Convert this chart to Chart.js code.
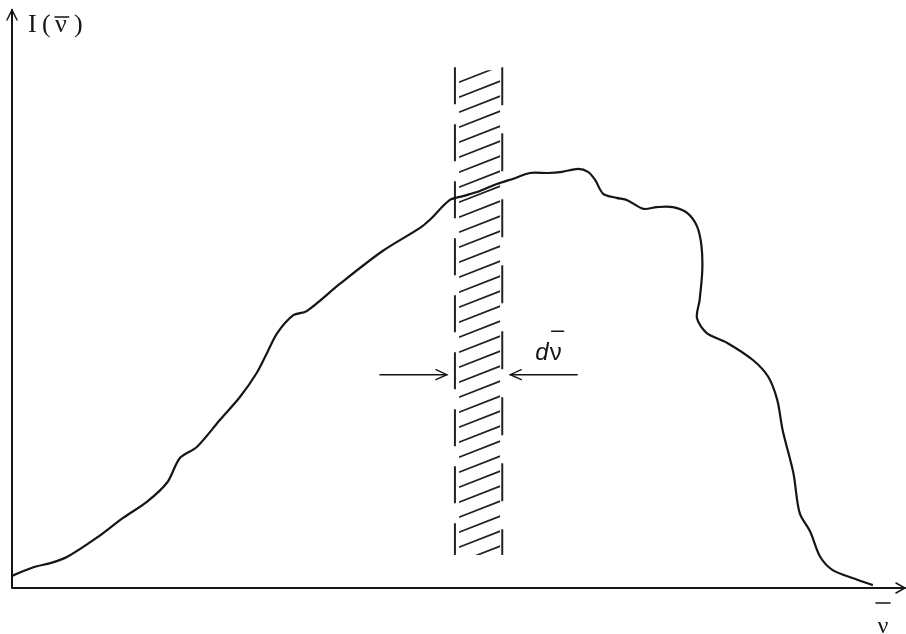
<!DOCTYPE html>
<html>
<head>
<meta charset="utf-8">
<title>I(ν)</title>
<script src="https://cdn.jsdelivr.net/npm/chart.js@4.4.1/dist/chart.umd.min.js"></script>
<style>
  html, body { margin: 0; padding: 0; background: #fff; }
  canvas { display: block; }
</style>
</head>
<body>
<canvas id="spektrum" width="906" height="634"></canvas>
<script>
// Vlnočet (libovolné jednotky, 0-100) a intenzita I(ν)
const nu = [
    0.0, 2.4, 4.3, 6.2, 9.5, 12.4, 15.1, 17.4, 18.8, 20.7,
    23.3, 25.5, 27.4, 28.6, 29.7, 31.5, 33.0, 36.7, 41.5, 45.7,
    46.8, 49.0, 50.5, 52.4, 54.3, 56.3, 58.0, 60.0, 61.6, 63.4,
    64.5, 65.3, 66.2, 67.7, 68.9, 70.7, 72.2, 74.0, 75.6, 76.7,
    77.2, 77.3, 77.0, 76.7, 77.8, 80.1, 83.0, 84.7, 85.7, 86.3,
    87.5, 88.2, 89.4, 90.5, 91.9, 94.2, 96.4
];
const intensity = [
    2.1, 3.6, 4.3, 5.4, 8.7, 12.1, 14.9, 18.3, 22.5, 24.4,
    29.1, 33.0, 37.2, 40.8, 44.1, 47.2, 47.9, 52.6, 58.3, 62.3,
    63.7, 67.1, 67.8, 68.7, 69.9, 70.9, 71.8, 71.8, 72.0, 72.5,
    72.0, 70.6, 68.2, 67.5, 67.1, 65.6, 65.9, 65.9, 64.9, 62.6,
    59.3, 55.0, 49.8, 46.7, 44.1, 42.4, 39.4, 36.5, 32.5, 27.3,
    19.9, 13.0, 9.7, 5.4, 3.1, 1.7, 0.5
];

// Šrafovaný proužek dν a šipky k němu (v jednotkách os)
const bandFrom = 49.6;
const bandTo = 54.9;
const bandTop = 90.1;
const bandBottom = 5.7;
const arrowLevel = 36.9;
const arrowLeft = [41.2, 48.7];   // odkud, hrot
const arrowRight = [63.3, 55.8];  // odkud, hrot
const dnuLabel = { x: 58.6, y: 39.4 };

const INK = '#151515';

// Otevřená šipka: dvě čárky od hrotu zpět
function arrowHead(ctx, tipX, tipY, dirX, dirY, len, half) {
    const bx = tipX - dirX * len;
    const by = tipY - dirY * len;
    ctx.beginPath();
    ctx.moveTo(bx - dirY * half, by + dirX * half);
    ctx.lineTo(tipX, tipY);
    ctx.lineTo(bx + dirY * half, by - dirX * half);
    ctx.stroke();
}

// Pruhovaný obdélník se dvěma přerušovanými okraji
const bandPlugin = {
    id: 'band',
    beforeDatasetsDraw(chart) {
        const ctx = chart.ctx;
        const x = chart.scales.x;
        const y = chart.scales.y;
        const xl = x.getPixelForValue(bandFrom);
        const xr = x.getPixelForValue(bandTo);
        const top = y.getPixelForValue(bandTop);
        const bottom = y.getPixelForValue(bandBottom);

        ctx.save();
        ctx.strokeStyle = '#222';
        ctx.lineWidth = 2;
        ctx.setLineDash([37, 20]);
        ctx.beginPath();
        ctx.moveTo(xl, top);
        ctx.lineTo(xl, bottom);
        ctx.stroke();
        ctx.setLineDash([38, 28]);
        ctx.beginPath();
        ctx.moveTo(xr, top);
        ctx.lineTo(xr, bottom);
        ctx.stroke();
        ctx.setLineDash([]);

        // šrafy
        const x0 = xl + 4;
        const x1 = xr - 2;
        const slope = 0.39;
        ctx.beginPath();
        ctx.rect(x0, top + 3, x1 - x0, bottom - top - 3);
        ctx.clip();
        ctx.strokeStyle = '#222';
        ctx.lineWidth = 1.7;
        ctx.beginPath();
        for (let c = top + 15; c < bottom + 40; c += 15) {
            ctx.moveTo(x0, c);
            ctx.lineTo(x1, c - slope * (x1 - x0));
        }
        ctx.stroke();
        ctx.restore();
    },
    afterDraw(chart) {
        const ctx = chart.ctx;
        const x = chart.scales.x;
        const y = chart.scales.y;
        const ox = x.getPixelForValue(0);
        const oy = y.getPixelForValue(0);
        const endX = x.getPixelForValue(100);
        const endY = y.getPixelForValue(100);

        ctx.save();
        ctx.strokeStyle = INK;
        ctx.fillStyle = INK;
        ctx.lineCap = 'round';

        // osy se šipkami
        ctx.lineWidth = 2;
        ctx.beginPath();
        ctx.moveTo(ox, oy);
        ctx.lineTo(endX, oy);
        ctx.moveTo(ox, oy);
        ctx.lineTo(ox, endY);
        ctx.stroke();
        ctx.lineWidth = 1.5;
        arrowHead(ctx, endX, oy, 1, 0, 9, 5);
        arrowHead(ctx, ox, endY, 0, -1, 10, 5);

        // šipky k proužku
        const ay = y.getPixelForValue(arrowLevel);
        const la = x.getPixelForValue(arrowLeft[0]);
        const lt = x.getPixelForValue(arrowLeft[1]);
        const ra = x.getPixelForValue(arrowRight[0]);
        const rt = x.getPixelForValue(arrowRight[1]);
        ctx.lineWidth = 1.4;
        ctx.beginPath();
        ctx.moveTo(la, ay);
        ctx.lineTo(lt, ay);
        ctx.moveTo(ra, ay);
        ctx.lineTo(rt, ay);
        ctx.stroke();
        arrowHead(ctx, lt, ay, 1, 0, 11, 5);
        arrowHead(ctx, rt, ay, -1, 0, 11, 5);

        // popisek dν
        const lx = x.getPixelForValue(dnuLabel.x);
        const ly = y.getPixelForValue(dnuLabel.y);
        ctx.font = 'italic 24px "Liberation Sans", Arial, sans-serif';
        ctx.textBaseline = 'alphabetic';
        ctx.fillText('d', lx, ly);
        const dw = ctx.measureText('d').width;
        ctx.font = '24px "Liberation Sans", Arial, sans-serif';
        ctx.fillText('ν', lx + dw + 1, ly);
        const nw = ctx.measureText('ν').width;
        ctx.lineWidth = 1.5;
        ctx.beginPath();
        ctx.moveTo(lx + dw + 3, ly - 29);
        ctx.lineTo(lx + dw + 3 + nw, ly - 29);
        ctx.stroke();

        // popisek osy y: I (ν)
        ctx.font = '26px "Liberation Serif", "Times New Roman", serif';
        ctx.fillText('I', ox + 16, 32);
        ctx.fillText('(', ox + 30, 32);
        ctx.fillText('ν', ox + 43, 32);
        ctx.fillText(')', ox + 62, 32);
        const vw = ctx.measureText('ν').width;
        ctx.lineWidth = 1.5;
        ctx.beginPath();
        ctx.moveTo(ox + 43, 17);
        ctx.lineTo(ox + 43 + vw + 2, 17);
        ctx.stroke();

        // popisek osy x: ν
        ctx.font = '24px "Liberation Serif", "Times New Roman", serif';
        ctx.textAlign = 'center';
        ctx.fillText('ν', 883, 633);
        ctx.beginPath();
        ctx.moveTo(876, 603);
        ctx.lineTo(890, 603);
        ctx.stroke();
        ctx.restore();
    }
};

document.addEventListener('DOMContentLoaded', function() {
    const ctx = document.getElementById('spektrum').getContext('2d');
    const points = nu.map((v, i) => ({ x: v, y: intensity[i] }));

    new Chart(ctx, {
        type: 'line',
        data: {
            datasets: [{
                data: points,
                borderColor: INK,
                borderWidth: 2.2,
                pointRadius: 0,
                tension: 0.3,
                fill: false
            }]
        },
        options: {
            responsive: false,
            animation: false,
            devicePixelRatio: 1,
            layout: {
                padding: { left: 12, right: 1, top: 10, bottom: 46 }
            },
            scales: {
                x: { type: 'linear', min: 0, max: 100, display: false },
                y: { min: 0, max: 100, display: false }
            },
            plugins: {
                legend: { display: false },
                tooltip: { enabled: false }
            }
        },
        plugins: [bandPlugin]
    });
});
</script>
</body>
</html>
